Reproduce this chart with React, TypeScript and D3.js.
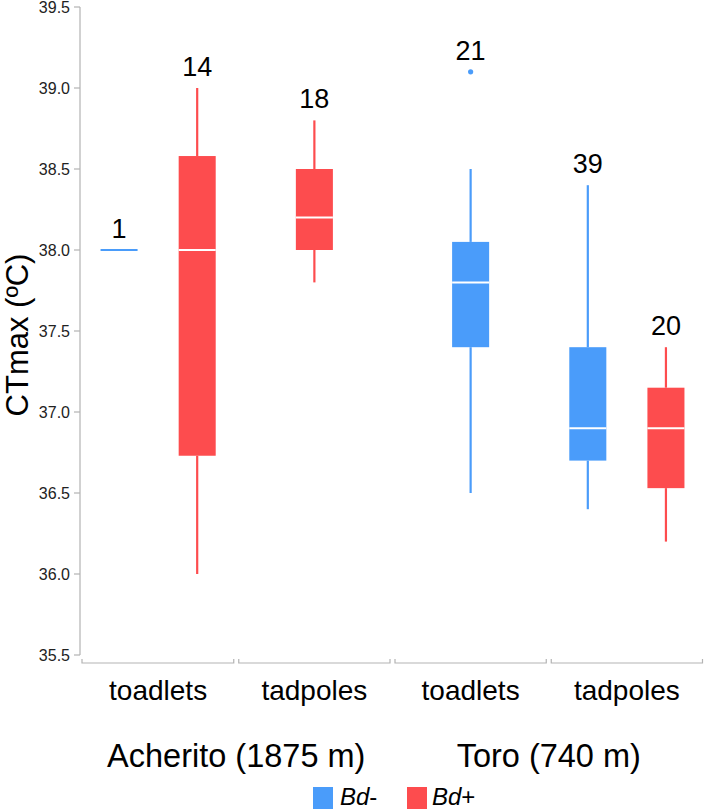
import React from "react";
import * as d3 from "d3";

// ---- data ----
const categories = ["toadlets", "tadpoles", "toadlets", "tadpoles"];
const sites = ["Acherito (1875 m)", "Toro (740 m)"];
const siteOfCategory = [0, 0, 1, 1];
const seriesNames = ["Bd-", "Bd+"];
const seriesColors = ["#4a9cfa", "#fd4c4e"];

const boxCategory = [0, 0, 1, 2, 3, 3];
const boxSeries = [0, 1, 1, 0, 0, 1];
const boxN = [1, 14, 18, 21, 39, 20];
const boxMin = [38.0, 36.0, 37.8, 36.5, 36.4, 36.2];
const boxQ1 = [38.0, 36.73, 38.0, 37.4, 36.7, 36.53];
const boxMedian = [38.0, 38.0, 38.2, 37.8, 36.9, 36.9];
const boxQ3 = [38.0, 38.58, 38.5, 38.05, 37.4, 37.15];
const boxMax = [38.0, 39.0, 38.8, 38.5, 38.4, 37.4];
const boxOutliers: number[][] = [[], [], [], [39.1], [], []];

const yTicks = [35.5, 36.0, 36.5, 37.0, 37.5, 38.0, 38.5, 39.0, 39.5];

const W = 706;
const H = 809;
const FONT = "'Liberation Sans', Arial, Helvetica, sans-serif";

export default function App() {
  const left = 80;
  const right = 705;
  const x = d3.scaleBand<number>().domain(d3.range(categories.length)).range([left, right]);
  const y = d3.scaleLinear().domain([35.5, 39.5]).range([655, 7]);
  const bw = x.bandwidth();
  const boxW = bw * 0.237;

  const seriesInCat = categories.map((_, c) =>
    boxCategory.map((bc, i) => (bc === c ? boxSeries[i] : -1)).filter((s) => s >= 0)
  );
  const dodge = d3.scaleBand<number>().domain([0, 1]).range([0, bw]);

  const cx = (i: number) => {
    const c = boxCategory[i];
    const start = x(c)!;
    if (seriesInCat[c].length > 1) return start + dodge(boxSeries[i])! + dodge.bandwidth() / 2;
    return start + bw / 2;
  };

  const axisColor = "#b3b3b3";

  return (
    <svg
      width={W}
      height={H}
      style={{ position: "absolute", left: 0, top: 0, background: "#fff" }}
      fontFamily={FONT}
    >
      {/* y axis */}
      <line x1={left} x2={left} y1={y(39.5)} y2={y(35.5)} stroke={axisColor} strokeWidth={1.2} />
      {yTicks.map((t) => (
        <g key={t}>
          <line x1={left - 6} x2={left} y1={y(t)} y2={y(t)} stroke={axisColor} strokeWidth={1.2} />
          <text x={left - 10} y={y(t)} dy="0.36em" textAnchor="end" fontSize={16} fill="#222">
            {t.toFixed(1)}
          </text>
        </g>
      ))}
      <text
        transform={`translate(28,${(y(35.5) + y(39.5)) / 2 + 4}) rotate(-90)`}
        textAnchor="middle"
        fontSize={31}
        fill="#000"
      >
        CTmax (ºC)
      </text>

      {/* x axis segments */}
      {categories.map((cat, c) => {
        const x0 = x(c)! + (c === 0 ? 2 : 2.5);
        const x1 = x(c)! + bw - 2.5;
        const yy = 663;
        return (
          <g key={c}>
            <path
              d={`M${x0},${yy - 4}L${x0},${yy}L${x1},${yy}L${x1},${yy - 4}`}
              fill="none"
              stroke={axisColor}
              strokeWidth={1.2}
            />
            <text x={x(c)! + bw / 2} y={700} textAnchor="middle" fontSize={28} fill="#000">
              {cat}
            </text>
          </g>
        );
      })}
      {sites.map((s, si) => {
        const cats = categories.map((_, c) => c).filter((c) => siteOfCategory[c] === si);
        const mid = (x(cats[0])! + x(cats[cats.length - 1])! + bw) / 2;
        return (
          <text key={s} x={mid} y={767} textAnchor="middle" fontSize={32.5} fill="#000">
            {s}
          </text>
        );
      })}

      {/* boxes */}
      {boxN.map((n, i) => {
        const color = seriesColors[boxSeries[i]];
        const c = cx(i);
        const top = d3.max([boxMax[i], ...boxOutliers[i]])!;
        const single = boxQ1[i] === boxQ3[i];
        return (
          <g key={i}>
            {!single && (
              <>
                <line x1={c} x2={c} y1={y(boxMax[i])} y2={y(boxQ3[i])} stroke={color} strokeWidth={2.2} />
                <line x1={c} x2={c} y1={y(boxQ1[i])} y2={y(boxMin[i])} stroke={color} strokeWidth={2.2} />
                <rect
                  x={c - boxW / 2}
                  y={y(boxQ3[i])}
                  width={boxW}
                  height={y(boxQ1[i]) - y(boxQ3[i])}
                  fill={color}
                />
                <line
                  x1={c - boxW / 2}
                  x2={c + boxW / 2}
                  y1={y(boxMedian[i])}
                  y2={y(boxMedian[i])}
                  stroke="#fff"
                  strokeWidth={2}
                />
              </>
            )}
            {single && (
              <line
                x1={c - boxW / 2}
                x2={c + boxW / 2}
                y1={y(boxMedian[i])}
                y2={y(boxMedian[i])}
                stroke={color}
                strokeWidth={2.2}
              />
            )}
            {boxOutliers[i].map((o, k) => (
              <circle key={k} cx={c} cy={y(o)} r={2.6} fill={color} />
            ))}
            <text x={c} y={y(top) - 12} textAnchor="middle" fontSize={27} fill="#000">
              {n}
            </text>
          </g>
        );
      })}

      {/* legend */}
      {(() => {
        const items = [
          { x: 313, tx: 340 },
          { x: 407, tx: 432 },
        ];
        return seriesNames.map((s, k) => (
          <g key={s}>
            <rect x={items[k].x} y={787} width={20} height={22} fill={seriesColors[k]} />
            <text x={items[k].tx} y={805} fontSize={24} fontStyle="italic" fill="#000">
              <tspan>Bd</tspan>
              <tspan fontStyle="normal">{s.slice(2)}</tspan>
            </text>
          </g>
        ));
      })()}
    </svg>
  );
}
